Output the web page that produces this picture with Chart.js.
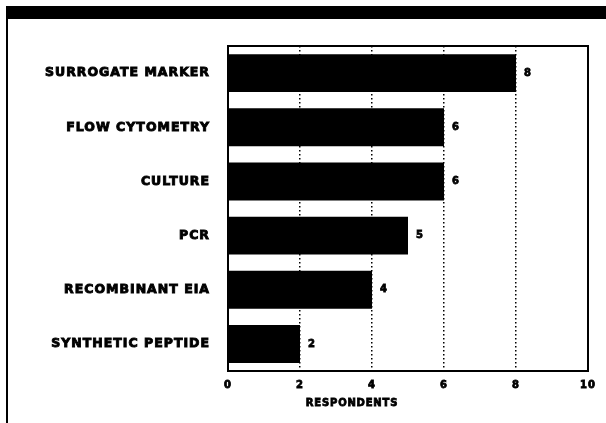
<!DOCTYPE html>
<html><head><meta charset="utf-8">
<script src="https://cdn.jsdelivr.net/npm/chart.js@4/dist/chart.umd.min.js"></script>
<style>
html,body{margin:0;padding:0;background:#fff;}
#wrap{position:relative;width:606px;height:423px;overflow:hidden;}
#frameTop{position:absolute;left:6px;top:6px;width:600px;height:13px;background:#000;}
#frameLeft{position:absolute;left:6px;top:6px;width:2px;height:417px;background:#000;}
canvas{position:absolute;left:0;top:0;}
</style></head>
<body><div id="wrap"><canvas id="c" width="606" height="423"></canvas><div id="frameTop"></div><div id="frameLeft"></div></div>
<script>
const categories = ["SURROGATE MARKER","FLOW CYTOMETRY","CULTURE","PCR","RECOMBINANT EIA","SYNTHETIC PEPTIDE"];
const respondents = [8,6,6,5,4,2];
const xTicks = [0,2,4,6,8,10];
const xTitle = "RESPONDENTS";
const FONT = "'DejaVu Sans', sans-serif";

const frameAndLabels = {
  id:'frameAndLabels',
  beforeDraw(chart){
    chart.ctx.letterSpacing = '1px';
  },
  afterDraw(chart){
    const {ctx, chartArea:a, scales:{x,y}} = chart;
    ctx.save();
    ctx.setLineDash([]);
    ctx.strokeStyle='#000'; ctx.lineWidth=2;
    ctx.strokeRect(a.left, a.top, a.right-a.left, a.bottom-a.top);
    ctx.fillStyle='#000';
    ctx.lineWidth=0.8;
    ctx.font="bold 10px "+FONT;
    ctx.textBaseline='middle'; ctx.textAlign='left';
    respondents.forEach((v,i)=>{
      const px=x.getPixelForValue(v)+8, py=y.getPixelForValue(i);
      ctx.fillText(String(v), px, py); ctx.strokeText(String(v), px, py);
    });
    ctx.font="bold 10px "+FONT;
    ctx.textAlign='center';
    ctx.letterSpacing='0.8px';
    ctx.fillText(xTitle, 352, 403); ctx.strokeText(xTitle, 352, 403);
    ctx.restore();
  }
};

new Chart(document.getElementById('c'),{
  type:'bar',
  data:{labels:categories,datasets:[{data:respondents,backgroundColor:'#000',borderWidth:0,barPercentage:0.7,categoryPercentage:1}]},
  options:{
    indexAxis:'y',responsive:false,animation:false,
    layout:{padding:{top:46,right:18,bottom:10,left:0}},
    plugins:{legend:{display:false},tooltip:{enabled:false}},
    scales:{
      x:{min:0,max:10,
        afterBuildTicks(s){s.ticks=xTicks.map(v=>({value:v}));},
        ticks:{color:'#000',font:{family:FONT,weight:'bold',size:10},padding:8,textStrokeColor:'#000',textStrokeWidth:0.8},
        grid:{drawTicks:false,color:(c)=>(c.tick&&(c.tick.value===0||c.tick.value===10))?'rgba(0,0,0,0)':'#000',lineWidth:1.5},
        border:{display:true,color:'#000',width:2,dash:[1.5,2.5]},
        title:{display:true,text:' ',color:'#000',font:{family:FONT,weight:'bold',size:10},padding:{top:2,bottom:0}}
      },
      y:{
        afterFit(s){s.width=228;},
        ticks:{color:'#000',font:{family:FONT,weight:'bold',size:12.5},padding:18,textStrokeColor:'#000',textStrokeWidth:0.9},
        grid:{display:false,drawTicks:false},
        border:{display:true,color:'#000',width:2}
      }
    }
  },
  plugins:[frameAndLabels]
});
</script></body></html>
